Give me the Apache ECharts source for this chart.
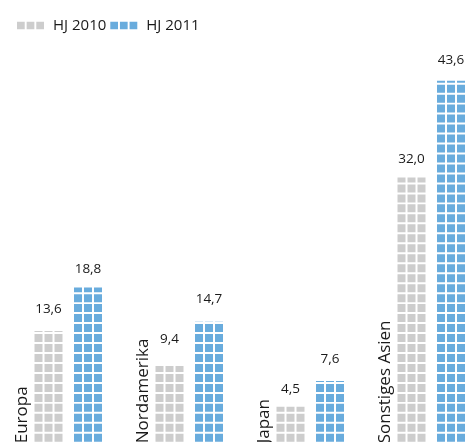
<!DOCTYPE html>
<html>
<head>
<meta charset="utf-8">
<script src="https://cdn.jsdelivr.net/npm/echarts@6/dist/echarts.min.js"></script>
<style>
html,body{margin:0;padding:0;background:#fff;}
#chart{width:470px;height:442px;}
</style>
</head>
<body>
<div id="chart"></div>
<script>
const categories = ['Europa', 'Nordamerika', 'Japan', 'Sonstiges Asien'];
const seriesNames = ['HJ 2010', 'HJ 2011'];
const values2010 = [13.6, 9.4, 4.5, 32.0];
const values2011 = [18.8, 14.7, 7.6, 43.6];

const FONT = '"Open Sans", "Liberation Sans", sans-serif';
const GREY = '#cdcdcd';
const BLUE = '#69acdd';
const SQUARES = 'path://M0,0h8v8h-8zM10,0h8v8h-8zM20,0h8v8h-8z';
const fmt = v => v.toFixed(1).replace('.', ',');

function pictSeries(name, data, color) {
  return {
    name: name,
    type: 'pictorialBar',
    data: data,
    barWidth: 28,
    barGap: '41%',
    symbol: SQUARES,
    symbolSize: [28, 8],
    symbolRepeat: true,
    symbolClip: true,
    symbolMargin: 1,
    symbolBoundingData: 50,
    symbolOffset: [0, -2.5],
    itemStyle: { color: color },
    label: {
      show: true,
      position: 'top',
      distance: 8,
      formatter: p => fmt(p.value),
      fontFamily: FONT,
      fontSize: 13.5,
      color: '#1a1a1a'
    },
    animation: false
  };
}

const chart = echarts.init(document.getElementById('chart'), null, { renderer: 'canvas' });
chart.setOption({
  animation: false,
  grid: { left: 7.75, top: 27.3, width: 484, height: 417, outerBoundsMode: 'none', containLabel: false },
  legend: {
    left: 12,
    top: 13,
    itemWidth: 27,
    itemHeight: 8,
    itemGap: 4,
    data: [
      { name: seriesNames[0], icon: SQUARES },
      { name: seriesNames[1], icon: SQUARES }
    ],
    textStyle: { fontFamily: FONT, fontSize: 15, color: '#1a1a1a', padding: [0, 0, 0, 4] }
  },
  xAxis: {
    type: 'category',
    data: categories,
    show: false
  },
  yAxis: {
    type: 'value',
    min: 0,
    max: 50,
    show: false
  },
  series: [
    pictSeries(seriesNames[0], values2010, GREY),
    pictSeries(seriesNames[1], values2011, BLUE),
    {
      type: 'custom',
      silent: true,
      data: categories.map((c, i) => [i]),
      encode: { x: 0 },
      renderItem: function (params, api) {
        const idx = api.value(0);
        const p = api.coord([idx, 0]);
        return {
          type: 'text',
          x: p[0] - 46,
          y: p[1] - 1,
          rotation: Math.PI / 2,
          style: {
            text: categories[idx],
            fontFamily: FONT,
            fontSize: 17,
            fill: '#1a1a1a',
            align: 'left',
            verticalAlign: 'middle'
          }
        };
      }
    }
  ]
});
</script>
</body>
</html>
